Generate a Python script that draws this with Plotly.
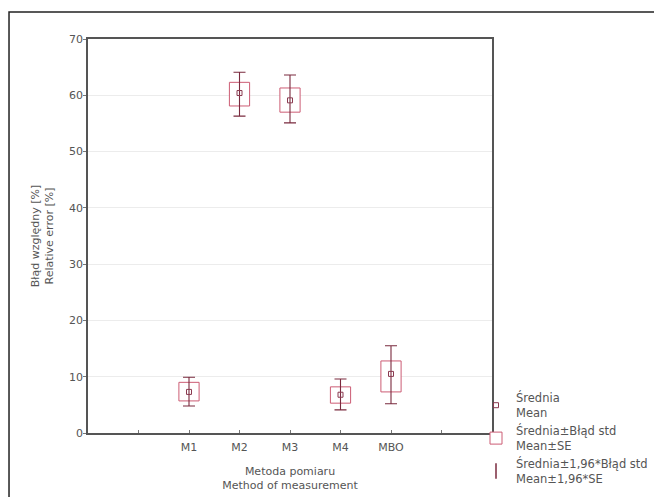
import plotly.graph_objects as go

# ---- data ----
categories = ["M1", "M2", "M3", "M4", "MBO"]
cat_pos = [2, 3, 4, 5, 6]           # slot positions on the 0..8 axis
mean_vals = [7.3, 60.4, 59.1, 6.8, 10.5]
se_lo = [5.7, 58.1, 57.0, 5.3, 7.3]     # mean - SE
se_hi = [9.0, 62.3, 61.3, 8.2, 12.8]    # mean + SE
ci_lo = [4.8, 56.3, 55.1, 4.1, 5.2]     # mean - 1.96*SE
ci_hi = [9.9, 64.1, 63.6, 9.6, 15.5]    # mean + 1.96*SE
x_tickvals = [1, 2, 3, 4, 5, 6, 7]
x_ticktext = ["", "M1", "M2", "M3", "M4", "MBO", ""]
y_tickvals = [0, 10, 20, 30, 40, 50, 60, 70]

BOX_COL = "#cc5c74"
WHISK_COL = "#7a2a3e"
TXT = "#555555"
FONT = "DejaVu Sans, sans-serif"
FS = 11
LFS = 11.5

fig = go.Figure()

# whiskers (mean ± 1.96*SE)
fig.add_trace(go.Scatter(
    x=cat_pos, y=mean_vals, mode="markers",
    marker=dict(size=1, color="rgba(0,0,0,0)"),
    error_y=dict(type="data", symmetric=False,
                 array=[h - m for h, m in zip(ci_hi, mean_vals)],
                 arrayminus=[m - l for m, l in zip(mean_vals, ci_lo)],
                 color=WHISK_COL, thickness=1.1, width=6),
    showlegend=False, hoverinfo="skip"))

# boxes (mean ± SE)
fig.add_trace(go.Bar(
    x=cat_pos, base=se_lo, y=[h - l for h, l in zip(se_hi, se_lo)],
    width=0.4, marker=dict(color="white", line=dict(color=BOX_COL, width=1)),
    name="Średnia±Błąd std<br>Mean±SE", legendrank=2))

# means
fig.add_trace(go.Scatter(
    x=cat_pos, y=mean_vals, mode="markers",
    marker=dict(symbol="square-open", size=5, color="#8a3a50", line=dict(width=1)),
    name="Średnia<br>Mean", legendrank=1))

# legend entry for whiskers
fig.add_trace(go.Scatter(
    x=[None], y=[None], mode="markers",
    marker=dict(symbol="line-ns-open", size=11, color=WHISK_COL,
                line=dict(width=1.5, color=WHISK_COL)),
    name="Średnia±1,96*Błąd std<br>Mean±1,96*SE", legendrank=3))

# outer frame of the picture
fig.add_shape(type="rect", xref="paper", yref="paper",
              x0=-0.1955, x1=1.5, y0=-0.2, y1=1.0685,
              line=dict(color="#222", width=1.5), layer="below")

fig.update_layout(
    width=662, height=497,
    margin=dict(l=80, r=178, t=31, b=72),
    paper_bgcolor="white", plot_bgcolor="white",
    font=dict(family=FONT, size=FS, color=TXT),
    barmode="overlay",
    showlegend=True,
    legend=dict(x=1.0 - 16 / 404, xanchor="left", y=0.125, yanchor="top",
                font=dict(size=LFS, color=TXT),
                bgcolor="rgba(0,0,0,0)", itemwidth=30,
                traceorder="normal", tracegroupgap=2),
    xaxis=dict(range=[0, 8], tickvals=x_tickvals, ticktext=x_ticktext,
               showgrid=False, zeroline=False,
               showline=True, linecolor="#555", linewidth=1.5, mirror=True,
               ticks="inside", ticklen=3, tickcolor="#777",
               ticklabelstandoff=3,
               tickfont=dict(size=FS, color=TXT),
               title=dict(text="Metoda pomiaru<br>Method of measurement",
                          font=dict(size=FS, color=TXT), standoff=14)),
    yaxis=dict(range=[0, 70], tickvals=y_tickvals,
               showgrid=True, gridcolor="#ececec", gridwidth=1, zeroline=False,
               showline=True, linecolor="#555", linewidth=1.5, mirror=True,
               ticks="outside", ticklen=3, tickcolor="#777",
               ticklabelstandoff=-2,
               tickfont=dict(size=FS, color=TXT),
               title=dict(text="Błąd względny [%]<br>Relative error [%]",
                          font=dict(size=FS, color=TXT), standoff=13)),
)

fig.write_html("out.html")
